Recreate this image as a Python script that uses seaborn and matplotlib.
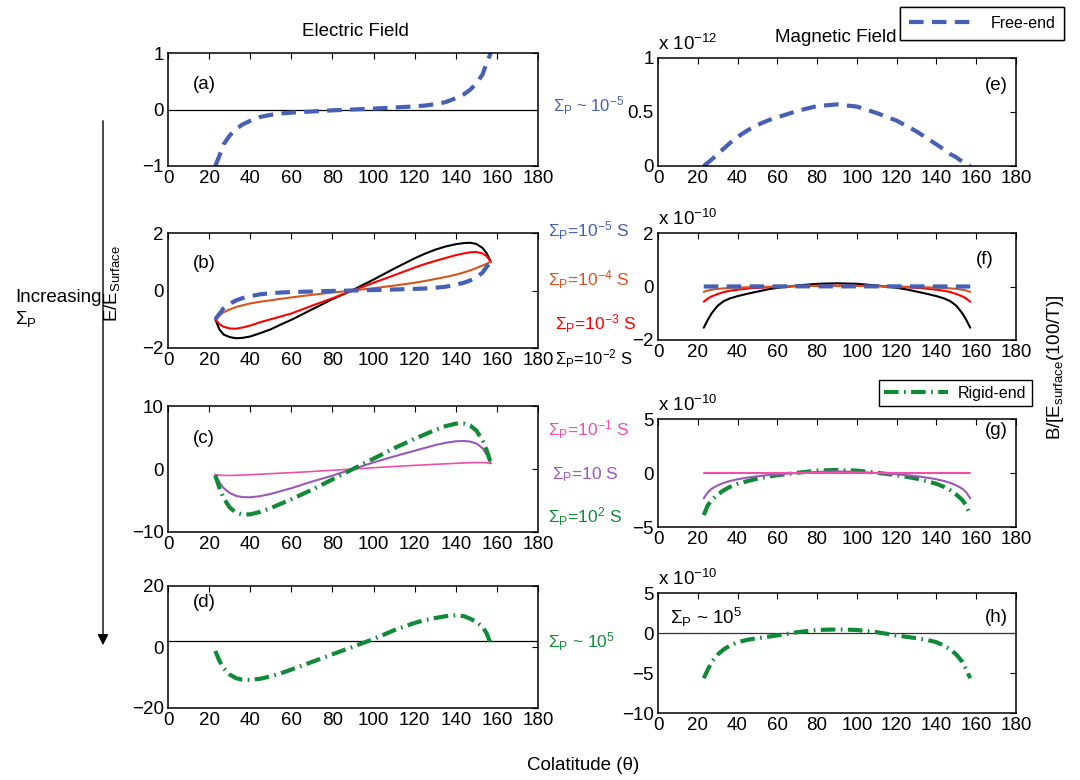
import matplotlib
matplotlib.use("Agg")
import matplotlib.pyplot as plt
from matplotlib.lines import Line2D
from matplotlib.patches import FancyArrowPatch
import pandas as pd
import seaborn as sns

# ---------------------------------------------------------------- data
theta = [23, 25, 27, 30, 33, 36, 40, 45, 50, 55, 60, 70, 80, 90,
         100, 110, 120, 125, 130, 135, 140, 144, 147, 150, 153, 155, 157]

# Electric field, normalised to the surface value
e_free = [-1.00, -0.82, -0.62, -0.46, -0.35, -0.27, -0.20, -0.13, -0.095, -0.07, -0.055, -0.035, -0.015, 0.0,
          0.015, 0.035, 0.055, 0.07, 0.095, 0.13, 0.20, 0.27, 0.35, 0.46, 0.62, 0.82, 1.00]
e_m4 = [-1.00, -0.87, -0.76, -0.66, -0.58, -0.52, -0.45, -0.39, -0.34, -0.29, -0.24, -0.15, -0.07, 0.00,
        0.08, 0.17, 0.27, 0.33, 0.40, 0.47, 0.55, 0.63, 0.70, 0.78, 0.87, 0.93, 1.00]
e_m3 = [-1.00, -1.17, -1.26, -1.32, -1.33, -1.29, -1.22, -1.10, -1.00, -0.90, -0.80, -0.53, -0.27, 0.00,
        0.27, 0.53, 0.80, 0.92, 1.03, 1.13, 1.23, 1.29, 1.33, 1.34, 1.29, 1.20, 1.00]
e_m2 = [-1.00, -1.35, -1.53, -1.62, -1.66, -1.65, -1.60, -1.48, -1.35, -1.18, -1.02, -0.66, -0.30, 0.02,
        0.38, 0.76, 1.12, 1.28, 1.42, 1.53, 1.61, 1.65, 1.66, 1.62, 1.48, 1.30, 1.00]
e_m1 = [-0.90, -0.98, -1.02, -1.03, -1.00, -0.96, -0.90, -0.82, -0.74, -0.66, -0.58, -0.40, -0.20, 0.00,
        0.20, 0.40, 0.58, 0.66, 0.74, 0.82, 0.90, 0.96, 1.00, 1.03, 1.02, 0.98, 0.90]
e_p1 = [-0.90, -2.10, -3.00, -3.80, -4.25, -4.45, -4.50, -4.30, -3.95, -3.50, -3.05, -2.00, -1.05, 0.00,
        1.05, 2.00, 2.90, 3.35, 3.80, 4.15, 4.40, 4.45, 4.35, 4.05, 3.30, 2.30, 0.90]
e_p2 = [-1.00, -3.00, -4.60, -6.10, -6.90, -7.20, -7.20, -6.80, -6.20, -5.50, -4.80, -3.30, -1.65, 0.00,
        1.65, 3.30, 4.80, 5.50, 6.20, 6.80, 7.20, 7.20, 6.90, 6.10, 4.60, 3.00, 1.00]
e_p5 = [-1.30, -4.50, -6.90, -9.00, -10.20, -10.70, -10.80, -10.40, -9.60, -8.60, -7.40, -4.90, -2.40, 0.10,
        2.60, 5.50, 7.90, 8.80, 9.50, 10.10, 10.40, 10.10, 9.30, 8.20, 6.60, 4.50, 1.00]

# Magnetic field, B/[E_surface (100/T)]
b_free_e12 = [0.00, 0.03, 0.06, 0.11, 0.16, 0.21, 0.27, 0.33, 0.38, 0.42, 0.45, 0.51, 0.555, 0.57,
              0.55, 0.49, 0.42, 0.37, 0.32, 0.26, 0.20, 0.15, 0.11, 0.08, 0.04, 0.02, 0.00]      # x 1e-12
b_m4 = [-0.20, -0.15, -0.12, -0.09, -0.07, -0.05, -0.04, -0.03, -0.02, -0.01, 0.00, 0.01, 0.02, 0.02,
        0.02, 0.01, 0.00, -0.01, -0.02, -0.03, -0.04, -0.05, -0.07, -0.09, -0.12, -0.15, -0.20]  # x 1e-10
b_m3 = [-0.57, -0.45, -0.37, -0.28, -0.21, -0.16, -0.12, -0.08, -0.05, -0.03, -0.01, 0.01, 0.03, 0.03,
        0.03, 0.01, -0.01, -0.03, -0.05, -0.08, -0.12, -0.16, -0.21, -0.28, -0.37, -0.45, -0.57]
b_m2 = [-1.54, -1.25, -1.00, -0.72, -0.55, -0.45, -0.36, -0.27, -0.19, -0.11, -0.05, 0.04, 0.10, 0.12,
        0.10, 0.04, -0.05, -0.11, -0.19, -0.27, -0.36, -0.45, -0.55, -0.72, -1.00, -1.25, -1.54]
b_m1 = [0.0] * 27
b_p1 = [-2.34, -1.80, -1.45, -1.15, -0.92, -0.75, -0.58, -0.42, -0.30, -0.20, -0.12, 0.00, 0.10, 0.15,
        0.10, 0.00, -0.12, -0.20, -0.30, -0.42, -0.58, -0.75, -0.92, -1.15, -1.45, -1.80, -2.34]
b_p2 = [-3.90, -3.00, -2.50, -2.00, -1.60, -1.30, -1.00, -0.75, -0.52, -0.35, -0.20, 0.02, 0.22, 0.28,
        0.22, 0.02, -0.20, -0.35, -0.52, -0.75, -1.00, -1.30, -1.60, -2.00, -2.50, -3.00, -3.90]
b_p5 = [-5.65, -4.60, -3.60, -2.70, -2.05, -1.60, -1.15, -0.85, -0.65, -0.48, -0.30, 0.10, 0.38, 0.45,
        0.38, 0.10, -0.30, -0.48, -0.65, -0.85, -1.15, -1.60, -2.05, -2.70, -3.60, -4.60, -5.65]

x_ticks = [0, 20, 40, 60, 80, 100, 120, 140, 160, 180]

# ---------------------------------------------------------------- style
sns.set_style("white")
plt.rcParams["font.family"] = ["Liberation Sans", "DejaVu Sans"]
plt.rcParams["mathtext.fontset"] = "custom"
plt.rcParams["mathtext.rm"] = "Liberation Sans"
plt.rcParams["mathtext.it"] = "Liberation Sans:italic"
plt.rcParams["mathtext.bf"] = "Liberation Sans:bold"
for key in ("text.color", "axes.labelcolor", "xtick.color", "ytick.color", "axes.edgecolor"):
    plt.rcParams[key] = "black"

BLUE = "#4560B5"
GREEN = "#118A37"
ORANGE = "#D9541E"
RED = "#FF0000"
PINK = "#EE4FA8"
PURPLE = "#9B59B6"

DASHED = (0, (3.5, 2.0))
DASHDOT = (0, (3.5, 1.3, 0.4, 1.3))

FS = 13.5       # axis numbers, panel tags, titles
FS_KEY = 12.5   # conductance labels between the columns
W, H = 1080, 780
fig = plt.figure(figsize=(W / 100, H / 100), dpi=100)


def make_axes(col, top, bottom):
    left, width = (168, 370) if col == 0 else (658, 358)
    ax = fig.add_axes([left / W, 1 - bottom / H, width / W, (bottom - top) / H])
    ax.set_xlim(0, 180)
    ax.set_xticks(x_ticks)
    ax.tick_params(direction="in", top=True, right=True, length=4, width=0.8,
                   labelsize=FS, pad=3, colors="black")
    for s in ax.spines.values():
        s.set_color("black")
        s.set_linewidth(1.1)
    return ax


def curve(ax, y, color, lw=1.5, ls="-", scale=1.0):
    df = pd.DataFrame({"theta": theta, "val": [v * scale for v in y]})
    sns.lineplot(data=df, x="theta", y="val", ax=ax, color=color, linewidth=lw,
                 linestyle=ls, sort=False, estimator=None, errorbar=None)
    ax.set_xlabel("")
    ax.set_ylabel("")


def tag(ax, x, y, s, ha="left"):
    ax.text(x, y, s, ha=ha, va="center", fontsize=FS)


def exponent(ax, s):
    ax.annotate(s, xy=(0, 1), xycoords="axes fraction", xytext=(0, 3),
                textcoords="offset points", ha="left", va="bottom", fontsize=FS)


# (a) free-end electric field
ax_a = make_axes(0, 53, 166)
ax_a.axhline(0, color="black", lw=0.9)
curve(ax_a, e_free, BLUE, lw=3.0, ls=DASHED)
ax_a.set_ylim(-1, 1)
ax_a.set_yticks([-1, 0, 1])
tag(ax_a, 12, 0.45, "(a)")

# (b) low conductance electric field
ax_b = make_axes(0, 233, 348)
curve(ax_b, e_m2, "black")
curve(ax_b, e_m3, RED)
curve(ax_b, e_m4, ORANGE)
curve(ax_b, e_free, BLUE, lw=3.0, ls=DASHED)
ax_b.set_ylim(-2, 2)
ax_b.set_yticks([-2, 0, 2])
tag(ax_b, 12, 0.95, "(b)")

# (c) intermediate conductance electric field
ax_c = make_axes(0, 406, 532)
curve(ax_c, e_m1, PINK, lw=1.2)
curve(ax_c, e_p1, PURPLE)
curve(ax_c, e_p2, GREEN, lw=3.0, ls=DASHDOT)
ax_c.set_ylim(-10, 10)
ax_c.set_yticks([-10, 0, 10])
tag(ax_c, 12, 4.8, "(c)")

# (d) rigid-end electric field
ax_d = make_axes(0, 586, 708)
ax_d.axhline(2, color="black", lw=0.9)
curve(ax_d, e_p5, GREEN, lw=3.0, ls=DASHDOT)
ax_d.set_ylim(-20, 20)
ax_d.set_yticks([-20, 0, 20])
tag(ax_d, 12, 14.5, "(d)")

# (e) free-end magnetic field
ax_e = make_axes(1, 58, 166)
curve(ax_e, b_free_e12, BLUE, lw=3.0, ls=DASHED)
ax_e.set_ylim(0, 1)
ax_e.set_yticks([0, 0.5, 1])
ax_e.set_yticklabels(["0", "0.5", "1"])
exponent(ax_e, r"x 10$^{-12}$")
tag(ax_e, 176, 0.75, "(e)", ha="right")

# (f) low conductance magnetic field
ax_f = make_axes(1, 233, 340)
curve(ax_f, b_m2, "black")
curve(ax_f, b_m3, RED)
curve(ax_f, b_m4, ORANGE)
curve(ax_f, b_free_e12, BLUE, lw=3.0, ls=DASHED, scale=0.01)
ax_f.set_ylim(-2, 2)
ax_f.set_yticks([-2, 0, 2])
exponent(ax_f, r"x 10$^{-10}$")
tag(ax_f, 169, 1.0, "(f)", ha="right")

# (g) intermediate conductance magnetic field
ax_g = make_axes(1, 419, 527)
curve(ax_g, b_p2, GREEN, lw=3.0, ls=DASHDOT)
curve(ax_g, b_p1, PURPLE)
curve(ax_g, b_m1, PINK)
ax_g.set_ylim(-5, 5)
ax_g.set_yticks([-5, 0, 5])
exponent(ax_g, r"x 10$^{-10}$")
tag(ax_g, 176, 3.9, "(g)", ha="right")

# (h) rigid-end magnetic field
ax_h = make_axes(1, 593, 713)
ax_h.axhline(0, color="#333333", lw=0.9)
curve(ax_h, b_p5, GREEN, lw=3.0, ls=DASHDOT)
ax_h.set_ylim(-10, 5)
ax_h.set_yticks([-10, -5, 0, 5])
exponent(ax_h, r"x 10$^{-10}$")
tag(ax_h, 176, 1.9, "(h)", ha="right")
ax_h.text(6, 1.9, r"$\Sigma_{\rm P}$ ~ 10$^{5}$", ha="left", va="center", fontsize=FS)


# ---------------------------------------------------------------- figure text
def ftext(x, y, s, **kw):
    kw.setdefault("fontsize", FS)
    kw.setdefault("ha", "left")
    kw.setdefault("va", "center")
    fig.text(x / W, 1 - y / H, s, **kw)


ftext(355, 32, "Electric Field", ha="center")
ftext(836, 37, "Magnetic Field", ha="center")
ftext(583, 765, "Colatitude (θ)", ha="center")

ftext(553, 106, r"$\Sigma_{\rm P}$ ~ 10$^{-5}$", color=BLUE, fontsize=12)
ftext(548, 231, r"$\Sigma_{\rm P}$=10$^{-5}$ S", color=BLUE, fontsize=FS_KEY)
ftext(548, 280, r"$\Sigma_{\rm P}$=10$^{-4}$ S", color=ORANGE, fontsize=FS_KEY)
ftext(555, 324, r"$\Sigma_{\rm P}$=10$^{-3}$ S", color=RED, fontsize=FS_KEY)
ftext(555, 359, r"$\Sigma_{\rm P}$=10$^{-2}$ S", color="black", fontsize=12)
ftext(548, 430, r"$\Sigma_{\rm P}$=10$^{-1}$ S", color=PINK, fontsize=FS_KEY)
ftext(552, 475, r"$\Sigma_{\rm P}$=10 S", color=PURPLE, fontsize=FS_KEY)
ftext(548, 517, r"$\Sigma_{\rm P}$=10$^{2}$ S", color=GREEN, fontsize=FS_KEY)
ftext(548, 642, r"$\Sigma_{\rm P}$ ~ 10$^{5}$", color=GREEN, fontsize=FS_KEY)

ftext(15, 297, "Increasing")
ftext(15, 319, r"$\Sigma_{\rm P}$")
ftext(112, 283, r"E/E$_{\rm Surface}$", rotation=90, ha="center")
ftext(1055, 367, r"B/[E$_{\rm surface}$(100/T)]", rotation=90, ha="center")

fig.add_artist(FancyArrowPatch((103 / W, 1 - 118 / H), (103 / W, 1 - 648 / H),
                               transform=fig.transFigure, arrowstyle="-|>",
                               mutation_scale=16, color="black", lw=1.0))

# line-style keys
leg1 = fig.legend(handles=[Line2D([], [], color=BLUE, lw=3.0, linestyle=DASHED)],
                  labels=["Free-end"], loc="upper right",
                  bbox_to_anchor=(1064 / W, 1 - 7 / H), frameon=True, fancybox=False,
                  edgecolor="black", framealpha=1, fontsize=11.5, handlelength=4.0,
                  borderpad=0.55, handletextpad=1.1, borderaxespad=0)
leg1.get_frame().set_linewidth(1.0)
leg2 = fig.legend(handles=[Line2D([], [], color=GREEN, lw=3.0, linestyle=DASHDOT)],
                  labels=["Rigid-end"], loc="upper right",
                  bbox_to_anchor=(1032 / W, 1 - 380 / H), frameon=True, fancybox=False,
                  edgecolor="black", framealpha=1, fontsize=11.5, handlelength=4.0,
                  borderpad=0.35, handletextpad=0.6, borderaxespad=0)
leg2.get_frame().set_linewidth(1.0)
fig.add_artist(leg1)

fig.savefig("out.png", dpi=100, facecolor="white")
